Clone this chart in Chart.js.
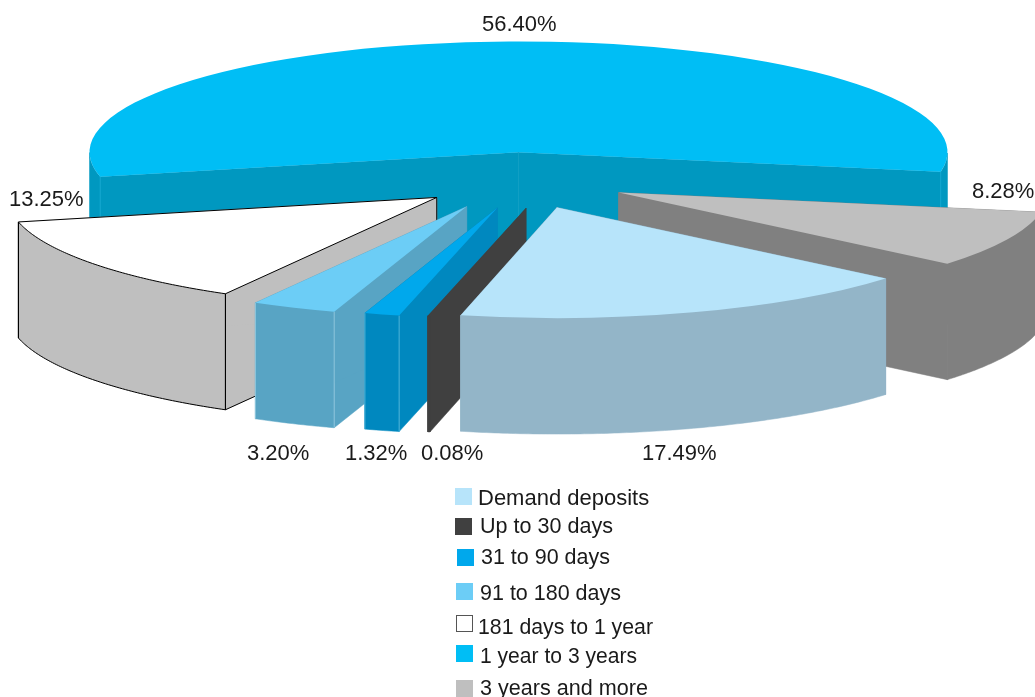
<!DOCTYPE html>
<html>
<head>
<meta charset="utf-8">
<title>Deposits by maturity</title>
<script src="https://cdn.jsdelivr.net/npm/chart.js@4/dist/chart.umd.min.js"></script>
<style>
    html, body { margin: 0; padding: 0; background: #fff; overflow: hidden; }
    canvas { display: block; }
</style>
</head>
<body>
<canvas id="depositsChart" width="1035" height="697"></canvas>
<script>
const categories = ['Demand deposits', 'Up to 30 days', '31 to 90 days', '91 to 180 days',
    '181 days to 1 year', '1 year to 3 years', '3 years and more'];
const shares = [17.49, 0.08, 1.32, 3.20, 13.25, 56.40, 8.28];

// Slice colours: top face, side walls, vertical seams
const topColors = ['#b7e4fa', '#404040', '#00a8ec', '#6ccdf6', '#ffffff', '#00bef5', '#bfbfbf'];
const wallColors = ['#93b5c8', '#404040', '#0088bf', '#58a4c4', '#bfbfbf', '#0098c0', '#808080'];
const seamColors = ['#93b5c8', '#404040', '#4fb4d9', '#8ec6dd', '#000000', '#10a8d0', '#808080'];

// Sideways nudge added to the radial explosion of each slice
const sliceNudge = [4, 33, 9, -7, 7, 3, 1];
// Back-to-front painting order of the slices
const paintOrder = [5, 6, 4, 3, 2, 1, 0];

// Percentage labels, in the same order as the shares
const labelX = [642, 421, 345, 247, 9, 482, 972];
const labelY = [460, 460, 460, 460, 206, 31, 198];

// Legend rows
const swatchX = [455, 455, 457, 456, 456, 456, 456];
const swatchY = [488, 518, 549, 583, 615, 645, 680];
const legendTextX = [478, 480, 481, 480, 478, 480, 480];
const legendTextY = [505, 533, 564, 600, 634, 663, 695];
const legendTextWidth = [172, 133, 129, 141, 175, 157, 168];

const SQUASH = 0.258;      // vertical tilt of the pie
const DEPTH = 116;         // thickness of the pie in pixels
const EXPLODE = 110;       // distance each slice is pulled out
const FONT = '22px "Liberation Sans", Arial, sans-serif';
const TEXT_COLOR = '#1a1a1a';

/**
 * Screen position of a point of an exploded slice, on the top face
 * @param {ArcElement} arc - slice element
 * @param {number} index - slice index
 * @param {number} angle - angle in radians
 * @param {number} radius - distance from the slice tip
 * @returns {Array} - x and y in pixels
 */
function project(arc, index, angle, radius) {
    const mid = (arc.startAngle + arc.endAngle) / 2;
    const x = arc.x + Math.cos(mid) * EXPLODE + sliceNudge[index] + Math.cos(angle) * radius;
    const y = arc.y + SQUASH * (Math.sin(mid) * EXPLODE + Math.sin(angle) * radius);
    return [x, y];
}

// Points along the outer edge of a slice, grouped into runs facing the viewer
function frontRuns(arc, index) {
    const runs = [];
    const steps = Math.max(2, Math.ceil((arc.endAngle - arc.startAngle) / 0.01));
    let run = null;
    for (let i = 0; i <= steps; i++) {
        const angle = arc.startAngle + (arc.endAngle - arc.startAngle) * i / steps;
        if (Math.sin(angle) >= 0) {
            if (!run) {
                run = [];
                runs.push(run);
            }
            run.push(project(arc, index, angle, arc.outerRadius));
        } else {
            run = null;
        }
    }
    return runs;
}

function tracePath(ctx, points, close) {
    ctx.beginPath();
    points.forEach((p, i) => (i ? ctx.lineTo(p[0], p[1]) : ctx.moveTo(p[0], p[1])));
    if (close) {
        ctx.closePath();
    }
}

const lowered = p => [p[0], p[1] + DEPTH];

// Side walls of a slice: the two cut faces and the curved rim
function drawWalls(ctx, arc, index) {
    const tip = project(arc, index, 0, 0);
    const first = project(arc, index, arc.startAngle, arc.outerRadius);
    const last = project(arc, index, arc.endAngle, arc.outerRadius);
    const shapes = [[tip, first, lowered(first), lowered(tip)], [tip, last, lowered(last), lowered(tip)]];

    frontRuns(arc, index).forEach(run => {
        shapes.push(run.concat(run.slice().reverse().map(lowered)));
    });

    ctx.fillStyle = wallColors[index];
    ctx.strokeStyle = wallColors[index];
    ctx.lineWidth = 0.5;
    shapes.forEach(points => {
        tracePath(ctx, points, true);
        ctx.fill();
        ctx.stroke();
    });

    // Hairlines where the walls meet
    ctx.strokeStyle = seamColors[index];
    ctx.lineWidth = 1;
    [first, last].forEach(p => {
        tracePath(ctx, [p, lowered(p)]);
        ctx.stroke();
    });
}

// The 181 days slice is the only one with a black outline
function drawOutline(ctx, arc, index) {
    const tip = project(arc, index, 0, 0);
    const first = project(arc, index, arc.startAngle, arc.outerRadius);
    const last = project(arc, index, arc.endAngle, arc.outerRadius);
    const rim = frontRuns(arc, index)[0];

    ctx.strokeStyle = '#000000';
    ctx.lineWidth = 1;
    tracePath(ctx, [tip].concat(rim), true);
    ctx.stroke();
    tracePath(ctx, rim.map(lowered));
    ctx.stroke();
    [first, last, tip].forEach(p => {
        tracePath(ctx, [p, lowered(p)]);
        ctx.stroke();
    });
    tracePath(ctx, [lowered(tip), lowered(first)]);
    ctx.stroke();
}

// Paints the slices as thick, tilted wedges in place of the flat pie
const tiltedPie = {
    id: 'tiltedPie',
    beforeDatasetDraw(chart, args) {
        const ctx = chart.ctx;
        const arcs = chart.getDatasetMeta(args.index).data;

        paintOrder.forEach(index => {
            const arc = arcs[index];
            const mid = (arc.startAngle + arc.endAngle) / 2;

            drawWalls(ctx, arc, index);

            ctx.save();
            ctx.translate(sliceNudge[index], 0);
            ctx.translate(arc.x, arc.y);
            ctx.scale(1, SQUASH);
            ctx.translate(-arc.x, -arc.y);
            ctx.translate(Math.cos(mid) * EXPLODE, Math.sin(mid) * EXPLODE);
            arc.draw(ctx);
            ctx.restore();

            if (seamColors[index] === '#000000') {
                drawOutline(ctx, arc, index);
            }
        });
        return false;
    },
    afterDraw(chart) {
        const ctx = chart.ctx;
        ctx.save();
        ctx.font = FONT;
        ctx.textAlign = 'left';
        ctx.textBaseline = 'alphabetic';
        ctx.fillStyle = TEXT_COLOR;

        shares.forEach((value, i) => {
            ctx.fillText(value.toFixed(2) + '%', labelX[i], labelY[i]);
        });

        categories.forEach((name, i) => {
            ctx.fillStyle = topColors[i];
            ctx.fillRect(swatchX[i], swatchY[i], 17, 17);
            if (topColors[i] === '#ffffff') {
                ctx.strokeStyle = '#555555';
                ctx.lineWidth = 1;
                ctx.strokeRect(swatchX[i] + 0.5, swatchY[i] + 0.5, 16, 16);
            }
            ctx.fillStyle = TEXT_COLOR;
            ctx.fillText(name, legendTextX[i], legendTextY[i], legendTextWidth[i]);
        });
        ctx.restore();
    }
};

new Chart(document.getElementById('depositsChart').getContext('2d'), {
    type: 'pie',
    data: {
        labels: categories,
        datasets: [{
            data: shares,
            backgroundColor: topColors,
            borderWidth: 0
        }]
    },
    options: {
        responsive: false,
        animation: false,
        rotation: 130,
        radius: 429,
        layout: {
            padding: { left: 1, right: 0, top: 0, bottom: 336 }
        },
        plugins: {
            legend: { display: false },
            title: { display: false },
            tooltip: { enabled: false }
        }
    },
    plugins: [tiltedPie]
});
</script>
</body>
</html>
